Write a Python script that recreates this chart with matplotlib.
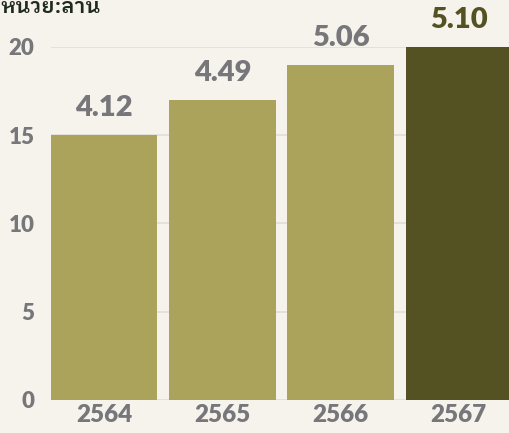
import matplotlib.pyplot as plt
from matplotlib import font_manager

years = ['2564', '2565', '2566', '2567']
bar_heights = [15, 17, 19, 20]
value_labels = ['4.12', '4.49', '5.06', '5.10']
y_ticks = [0, 5, 10, 15, 20]
unit_label = 'หน่วย:ล้าน'

bg = '#f6f3ec'
light = '#aba35b'
dark = '#545223'
gray = '#77767a'

names = {f.name for f in font_manager.fontManager.ttflist}
thai_fonts = [n for n in ['IBM Plex Sans Thai Looped', 'IBM Plex Sans Thai'] if n in names]
main_font = 'Lato' if 'Lato' in names else 'DejaVu Sans'

plt.rcParams['font.family'] = [main_font, 'DejaVu Sans']
plt.rcParams['font.weight'] = 'bold'

fig = plt.figure(figsize=(5.1, 4.33), dpi=100, facecolor=bg)
ax = fig.add_axes([51 / 510, 33 / 433, 461 / 510, 353 / 433])
ax.set_facecolor(bg)

colors = [light, light, light, dark]
bars = ax.bar(range(len(years)), bar_heights, width=0.9, color=colors, zorder=2)

ax.set_xlim(-0.45, 3.45)
ax.set_ylim(0, 20)
ax.set_yticks(y_ticks, labels=[str(v) for v in y_ticks], fontweight='heavy',
              fontsize=16, color=gray)
ax.set_xticks(range(len(years)), labels=years, fontweight='heavy',
              fontsize=17.5, color=gray)
ax.yaxis.grid(True, color='#e2ded6', linewidth=1.2, zorder=0)
ax.set_axisbelow(True)
for s in ax.spines.values():
    s.set_visible(False)
ax.tick_params(length=0)
ax.tick_params(axis='y', pad=12)
ax.tick_params(axis='x', pad=3)

for b, txt, c in zip(bars, value_labels, colors):
    tc = dark if c == dark else gray
    ax.annotate(txt, (b.get_x() + b.get_width() / 2, b.get_height()),
                xytext=(0, 13.7), textcoords='offset points', ha='center', va='baseline',
                fontsize=21, fontweight='heavy', color=tc,
                annotation_clip=False)

fig.text(0.0, 1 - 13 / 433, unit_label, ha='left', va='baseline', fontsize=15,
         fontweight='semibold', color='#1f2a1f', family=thai_fonts + ['DejaVu Sans'])

fig.savefig('out.png', dpi=100, facecolor=bg)
